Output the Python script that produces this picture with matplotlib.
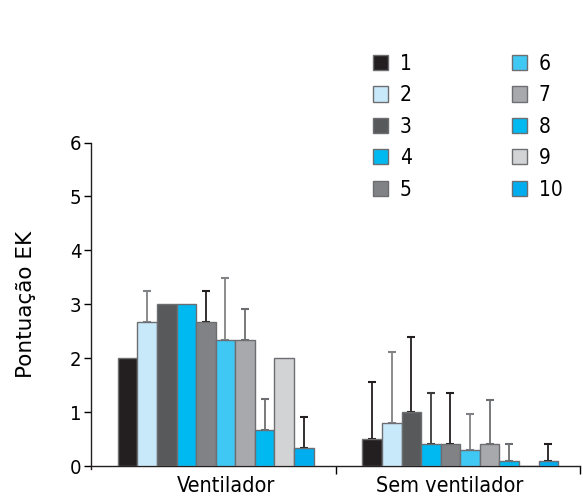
import matplotlib
matplotlib.use("Agg")
import matplotlib.pyplot as plt
from matplotlib.patches import Patch
from matplotlib import font_manager
import numpy as np

groups = ["Ventilador", "Sem ventilador"]
series = ["1", "2", "3", "4", "5", "6", "7", "8", "9", "10"]
ventilador = [2.0, 2.67, 3.0, 3.0, 2.67, 2.33, 2.33, 0.67, 2.0, 0.33]
ventilador_err = [0, 0.58, 0, 0, 0.58, 1.15, 0.58, 0.58, 0, 0.58]
sem_ventilador = [0.5, 0.8, 1.0, 0.4, 0.4, 0.3, 0.4, 0.1, 0.0, 0.1]
sem_ventilador_err = [1.06, 1.31, 1.40, 0.95, 0.95, 0.67, 0.82, 0.30, 0, 0.30]

colors = ["#231f20", "#c8e9f9", "#58595b", "#00b9f1", "#808285",
          "#40c8f4", "#a7a9ac", "#00b9f1", "#d1d3d4", "#00aeef"]
err_colors = ["#231f20", "#808285", "#231f20", "#3a3a3c", "#231f20",
              "#808285", "#6d6e71", "#6d6e71", "#231f20", "#231f20"]

plt.rcParams["font.family"] = ["DejaVu Sans"]
cond = dict(family="DejaVu Sans", stretch="condensed")
tick_font = font_manager.FontProperties(size=14.5, **cond)
legend_font = font_manager.FontProperties(size=15, **cond)

fig = plt.figure(figsize=(5.83, 5.0), dpi=100)
ax = fig.add_axes([0.156, 0.068, 0.839, 0.647])

n = len(series)
width = 0.08
x = np.arange(len(groups))
values = np.array([ventilador, sem_ventilador])
errs = np.array([ventilador_err, sem_ventilador_err])

for i in range(n):
    pos = x + 0.01 + (i - (n - 1) / 2) * width
    vals = values[:, i]
    e = errs[:, i]
    ax.bar(pos, vals, width, color=colors[i], edgecolor="#6d6e71",
           linewidth=1.0, zorder=3)
    for p, v, ee in zip(pos, vals, e):
        if ee > 0:
            ax.errorbar(p, v, yerr=[[0], [ee]], fmt="none",
                        ecolor=err_colors[i], elinewidth=1.3,
                        capsize=3.0, capthick=1.5, zorder=2)

ax.set_xlim(-0.5, 1.5)
ax.set_ylim(0, 6)
ax.set_yticks(range(7))
# group labels sit slightly toward the middle of the axis
ax.set_xticks([0.051, 0.965])
ax.set_xticklabels(groups)
for lbl in ax.get_xticklabels():
    lbl.set_fontproperties(font_manager.FontProperties(size=15.5, **cond))
ax.set_xticks([0.5, 1.5], minor=True)
ax.tick_params(axis="x", which="major", length=0, pad=7)
ax.tick_params(axis="x", which="minor", length=6, direction="out", width=1)
ax.tick_params(axis="y", length=5, direction="out", width=1, pad=2)
for lbl in ax.get_yticklabels():
    lbl.set_fontproperties(tick_font)
ax.spines["top"].set_visible(False)
ax.spines["right"].set_visible(False)
for s in ("left", "bottom"):
    ax.spines[s].set_linewidth(1.0)
    ax.spines[s].set_color("#231f20")
ax.spines["left"].set_bounds(-0.05, 6)
ax.set_ylabel("Pontuação EK", fontsize=15.5, labelpad=24)

handles = [Patch(facecolor=c, edgecolor="#6d6e71", label=s) for c, s in zip(colors, series)]
fig.legend(handles=handles, ncol=2, loc="upper left",
           bbox_to_anchor=(0.607, 0.93), frameon=False, prop=legend_font,
           handlelength=0.75, handleheight=0.75, handletextpad=0.55,
           labelspacing=0.55, columnspacing=4.8)

fig.savefig("out.png", dpi=100)
